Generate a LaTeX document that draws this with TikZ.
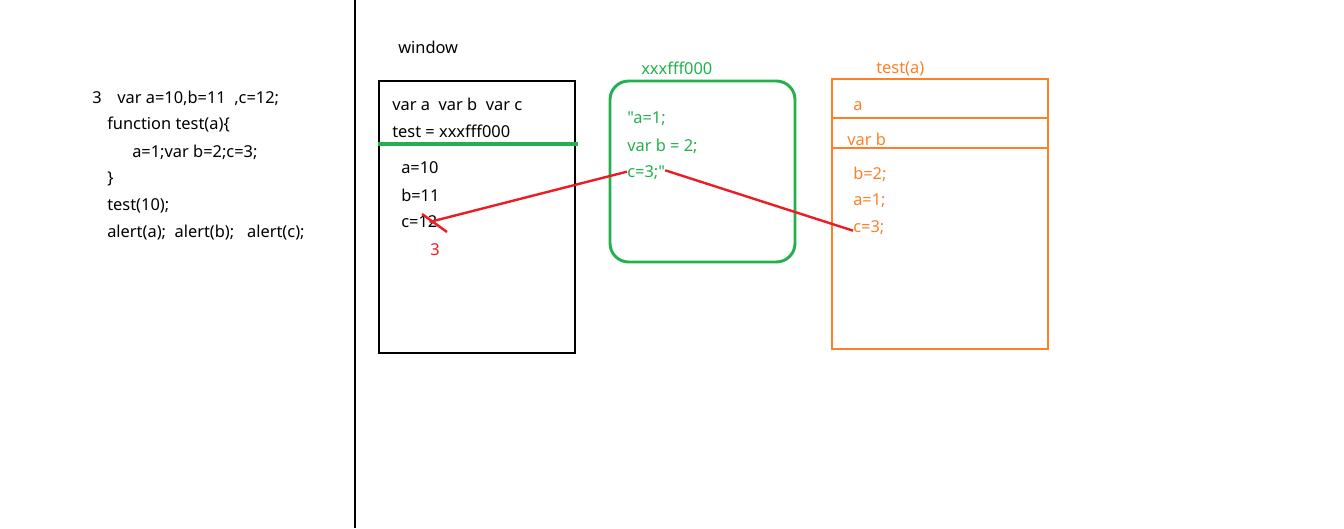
\documentclass[tikz,border=0pt]{standalone}
\usepackage{fontspec}
\setmainfont{Noto Sans}[Ligatures=TeXOff]
\begin{document}
\begin{tikzpicture}[x=0.75pt,y=-0.75pt]
                    \tikzstyle{txt}=[anchor=west,inner sep=0pt,font=\fontsize{12.3}{14}\selectfont]
                    \definecolor{pgreen}{RGB}{34,177,76}
                    \definecolor{porange}{RGB}{255,127,39}
                    \definecolor{pred}{RGB}{237,28,36}
                    \useasboundingbox (0,0) rectangle (1344,528);

                    % code on the left
                    \node (n3) at (92,98) [txt] {3};
                    \node (l1) at (117,98) [txt] {var a=10,b=11\ \ ,c=12;};
                    \node (l2) at (107,125) [txt] {function test(a)\{};
                    \node (l3) at (132,152) [txt] {a=1;var b=2;c=3;};
                    \node (l4) at (107,179) [txt] {\}};
                    \node (l5) at (107,206) [txt] {test(10);};
                    \node (l6) at (107,233) [txt] {alert(a);\ \ alert(b);\ \ \ alert(c);};

                    \draw [line width=2.2pt] (355,0) -- (355,528);

                    % window
                    \node (win) at (398,47) [txt] {window};
                    \draw [line width=2.2pt] (379,81) rectangle (575,353);
                    \node (w1) at (392,104) [txt] {var a\ \ var b\ \ var c};
                    \node (w2) at (392,131) [txt] {test = xxxfff000};
                    \draw [pgreen,line width=2.4pt] (378,144) -- (578,144);
                    \node (wa) at (401,168) [txt] {a=10};
                    \node (wb) at (401,195) [txt] {b=11};
                    \node (wc) at (401,222) [txt] {c=12};
                    \node (w3) at (430,250) [txt,pred] {3};
                    \coordinate (s1) at (422,214);
                    \coordinate (s2) at (447,232);
                    \draw [pred,line width=1.8pt] (s1) -- (s2);

                    % function body
                    \node (fn) at (641,68) [txt,pgreen] {xxxfff000};
                    \draw [pgreen,line width=2.2pt,rounded corners=14pt] (610,81) rectangle (795,262);
                    \node (f1) at (627,119) [txt,pgreen] {"a=1;};
                    \node (f2) at (627,146) [txt,pgreen] {var b = 2;};
                    \node (f3) at (627,173) [txt,pgreen] {c=3;"};

                    % test(a) scope
                    \node (tn) at (876,69) [txt,porange] {test(a)};
                    \draw [porange,line width=2.2pt] (832,79) rectangle (1048,349);
                    \draw [porange,line width=2.2pt] (832,118) -- (1048,118);
                    \draw [porange,line width=2.2pt] (832,148) -- (1048,148);
                    \node (ta) at (853,106) [txt,porange] {a};
                    \node (tb) at (847,139) [txt,porange] {var b};
                    \node (t1) at (853,174) [txt,porange] {b=2;};
                    \node (t2) at (853,201) [txt,porange] {a=1;};
                    \node (t3) at (853,228) [txt,porange] {c=3;};

                    \draw [pred,line width=1.8pt] ([xshift=-6pt]wc.east) -- ([yshift=1pt]f3.west);
                    \draw [pred,line width=1.8pt] ([yshift=2pt]f3.east) -- ([yshift=-2pt]t3.west);
                \end{tikzpicture}
\end{document}
